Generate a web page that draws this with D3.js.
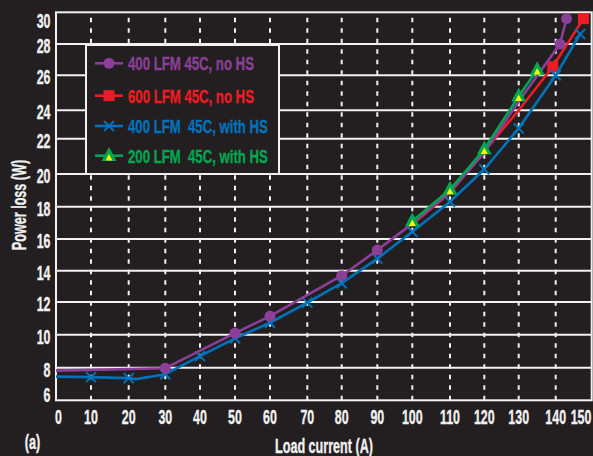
<!DOCTYPE html>
<html>
<head>
<meta charset="utf-8">
<script src="https://cdn.jsdelivr.net/npm/d3@7"></script>
<style>
  html, body { margin: 0; padding: 0; background: #231f20; }
  svg { display: block; }
</style>
</head>
<body>
<svg id="chart" width="593" height="456"></svg>
<script>
// ---- data ----
const xTicks = [0, 10, 20, 30, 40, 50, 60, 70, 80, 90, 100, 110, 120, 130, 140, 150];
const yTicks = [6, 8, 10, 12, 14, 16, 18, 20, 22, 24, 26, 28, 30];

const purpleX = [0, 30, 50, 60, 80, 90, 100, 110, 120, 130, 141.2, 143];
const purpleY = [7.82, 7.97, 10.1, 11.14, 13.68, 15.3, 16.95, 18.9, 21.2, 24.5, 28.0, 29.6];
const purpleMark = [0, 1, 1, 1, 1, 1, 0, 0, 0, 0, 1, 1];

const redX = [100, 110, 120, 130, 139.2, 147.7];
const redY = [16.9, 18.85, 21.3, 24.0, 26.55, 29.6];
const redMark = [0, 0, 0, 0, 1, 1];

const blueX = [0, 10, 20, 22, 30, 40, 50, 60, 70, 80, 90, 100, 110, 120, 130, 140, 146.8];
const blueY = [7.45, 7.42, 7.36, 7.3, 7.6, 8.7, 9.78, 10.73, 11.96, 13.2, 14.76, 16.45, 18.3, 20.27, 22.73, 26.0, 28.63];
const blueMark = [0, 1, 1, 0, 1, 1, 1, 1, 1, 1, 1, 1, 1, 1, 1, 1, 1];

const greenX = [100, 110, 120, 130, 135];
const greenY = [17.1, 19.05, 21.4, 24.8, 26.35];
const greenMark = [1, 1, 1, 1, 1];

const seriesNames = ["400 LFM 45C, no HS", "600 LFM 45C, no HS", "400 LFM\u00a0 45C, with HS", "200 LFM\u00a0 45C, with HS"];
const xTitle = "Load current (A)";
const yTitle = "Power loss (W)";
const panelLabel = "(a)";

// ---- styles ----
const BG = "#231f20";
const FG = "#f1f1f1";
const C_PURPLE = "#8c3f98";
const C_RED = "#ed1c24";
const C_BLUE = "#0072bc";
const C_GREEN = "#00a651";
const C_YELLOW = "#fff200";
const FONT = "'Liberation Sans Narrow','Liberation Sans','DejaVu Sans Condensed',sans-serif";

const svg = d3.select("#chart");
svg.append("rect").attr("width", 593).attr("height", 456).attr("fill", BG);

// piecewise scales following the printed grid
const x = d3.scaleLinear()
  .domain(xTicks)
  .range([56, 91, 128.7, 165.3, 200, 235, 270, 307.3, 341.7, 377.3, 412.3, 450, 484.3, 518.7, 555.7, 591.7]);
const y = d3.scaleLinear()
  .domain(yTicks)
  .range([400.3, 367.7, 334.7, 302, 270.7, 239, 206.7, 174, 138.7, 110.3, 75.3, 44, 12.3]);

// measure a string to derive a horizontal condensing factor
function measure(txt, size) {
  const t = svg.append("text").attr("font-family", FONT).attr("font-weight", "bold")
    .attr("font-size", size).text(txt);
  const w = t.node().getComputedTextLength();
  t.remove();
  return w;
}
const TICK_SIZE = 20.5, LEG_SIZE = 19, TITLE_SIZE = 19.5;
const sxTick = 20.7 / measure("150", TICK_SIZE);
const sxLeg = 126 / measure(seriesNames[0], LEG_SIZE);
const sxTitle = 98 / measure(xTitle, TITLE_SIZE);

function label(g, txt, px, py, size, anchor, fill, sx, rot) {
  return g.append("text")
    .attr("transform", `translate(${px},${py})${rot ? ` rotate(${rot})` : ""} scale(${sx},1)`)
    .attr("text-anchor", anchor)
    .attr("font-family", FONT)
    .attr("font-weight", "bold")
    .attr("font-size", size)
    .attr("fill", fill || FG)
    .attr("stroke", fill || FG)
    .attr("stroke-width", 0.35)
    .text(txt);
}

// ---- grid ----
const grid = svg.append("g");
grid.selectAll("line.v").data(xTicks.slice(1, -1)).join("line")
  .attr("x1", d => x(d)).attr("x2", d => x(d))
  .attr("y1", y(6)).attr("y2", y(30))
  .attr("stroke", FG).attr("stroke-width", 2)
  .attr("stroke-dasharray", "4.5,6");
grid.selectAll("line.h").data(yTicks.slice(1, -1)).join("line")
  .attr("x1", x(0)).attr("x2", x(150))
  .attr("y1", d => y(d)).attr("y2", d => y(d))
  .attr("stroke", FG).attr("stroke-width", 2);
grid.append("rect")
  .attr("x", x(0)).attr("y", y(30))
  .attr("width", x(150) - x(0)).attr("height", y(6) - y(30))
  .attr("fill", "none").attr("stroke", FG).attr("stroke-width", 2);

// ---- tick labels ----
const tl = svg.append("g");
yTicks.forEach(v => {
  let py = y(v) + 9;
  if (v === 30) py = 27.5;
  if (v === 6) py = 402;
  label(tl, String(v), 50.5, py, TICK_SIZE, "end", FG, sxTick);
});
xTicks.forEach(v => {
  let px = x(v);
  if (v === 0) px = 58.5;
  if (v === 150) px = 581;
  label(tl, String(v), px, 423.5, TICK_SIZE, "middle", FG, sxTick);
});

// ---- titles ----
label(svg, xTitle, 324, 452.5, TITLE_SIZE, "middle", FG, sxTitle);
label(svg, yTitle, 25.5, 205, TITLE_SIZE, "middle", FG, sxTitle, -90);
label(svg, panelLabel, 32.5, 449, TITLE_SIZE, "middle", FG, sxTitle);

// ---- markers ----
function drawMarker(g, kind, cx, cy) {
  if (kind === "circle") {
    g.append("circle").attr("cx", cx).attr("cy", cy).attr("r", 5.5).attr("fill", C_PURPLE);
  } else if (kind === "square") {
    g.append("rect").attr("x", cx - 5.5).attr("y", cy - 5.5).attr("width", 11).attr("height", 11).attr("fill", C_RED);
  } else if (kind === "cross") {
    const s = 5;
    g.append("path").attr("d", `M${cx - s},${cy - s}L${cx + s},${cy + s}M${cx - s},${cy + s}L${cx + s},${cy - s}`)
      .attr("stroke", C_BLUE).attr("stroke-width", 2).attr("fill", "none");
  } else if (kind === "triangle") {
    const h = 14, w = 15;
    g.append("path").attr("d", `M${cx},${cy - h * 0.62}L${cx + w / 2},${cy + h * 0.38}L${cx - w / 2},${cy + h * 0.38}Z`)
      .attr("fill", C_GREEN);
    const h2 = 6.5, w2 = 7;
    g.append("path").attr("d", `M${cx},${cy - h2 * 0.5}L${cx + w2 / 2},${cy + h2 * 0.5}L${cx - w2 / 2},${cy + h2 * 0.5}Z`)
      .attr("fill", C_YELLOW).attr("transform", "translate(0,1.5)");
  }
}

const line = d3.line().x(d => x(d[0])).y(d => y(d[1]));

function drawSeries(xs, ys, marks, color, kind) {
  const pts = xs.map((v, i) => [v, ys[i], marks[i]]);
  const g = svg.append("g");
  g.append("path").datum(pts).attr("d", line)
    .attr("fill", "none").attr("stroke", color).attr("stroke-width", 2.6)
    .attr("stroke-linejoin", "round");
  pts.filter(p => p[2]).forEach(p => drawMarker(g, kind, x(p[0]), y(p[1])));
}

drawSeries(redX, redY, redMark, C_RED, "square");
drawSeries(blueX, blueY, blueMark, C_BLUE, "cross");
drawSeries(purpleX, purpleY, purpleMark, C_PURPLE, "circle");
drawSeries(greenX, greenY, greenMark, C_GREEN, "triangle");

// ---- legend ----
const lg = svg.append("g");
lg.append("rect").attr("x", 86).attr("y", 45).attr("width", 193).attr("height", 129)
  .attr("fill", BG).attr("stroke", FG).attr("stroke-width", 2);
const legColors = [C_PURPLE, C_RED, C_BLUE, C_GREEN];
const legKinds = ["circle", "square", "cross", "triangle"];
const legY = [63.3, 95.7, 126, 155.7];
seriesNames.forEach((name, i) => {
  lg.append("line").attr("x1", 95).attr("x2", 123).attr("y1", legY[i]).attr("y2", legY[i])
    .attr("stroke", legColors[i]).attr("stroke-width", 2.6);
  drawMarker(lg, legKinds[i], 109, legY[i]);
  label(lg, name, 128, legY[i] + 7, LEG_SIZE, "start", legColors[i], sxLeg);
});
</script>
</body>
</html>
